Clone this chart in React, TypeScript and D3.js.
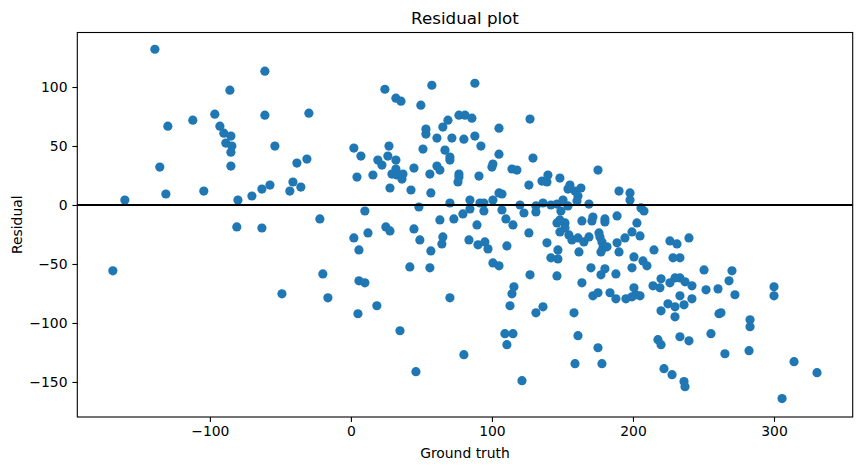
import { useEffect, useRef } from 'react';
import * as d3 from 'd3';

const groundTruth = [
  -139.0, -61.0, -85.8, -129.8, -112.1, -96.5, -61.0, -92.9, -90.1, -85.1,
  -88.7, -84.4, -85.1, -53.9, -135.5, -85.1, -160.3, -131.2, -104.3, -80.1,
  -70.2, -63.1, -57.4, -80.9, -63.1, -168.8, -29.8, -38.3, -31.2, -41.1,
  -43.3, -35.5, -22.0, 9.9, 24.1, 31.9, 35.5, 57.4, 49.6, 2.1,
  7.1, 4.3, 15.6, 19.1, 22.0, 27.0, 26.2, 31.9, 31.9, 29.1,
  32.6, 36.9, 36.2, 44.7, 27.7, 42.6, 51.1, 53.2, 53.2, 61.0,
  65.2, 68.8, 76.6, 80.9, 80.1, 71.6, 66.7, 70.2, 70.2, 61.0,
  63.1, 56.0, 76.6, 76.6, 75.9, 56.7, 70.2, 84.4, 48.2, 84.4,
  79.4, 73.0, 63.1, 24.8, 44.7,
  87.9, 85.8, 105.0, 127.0, 87.9, 92.2, 105.0, 129.1, 100.0, 100.7,
  114.2, 117.7, 90.8, 126.2, 135.5, 139.0, 139.7, 148.2, 175.2, 105.0,
  107.1, 100.7, 91.5, 94.3, 94.3, 107.1, 119.9, 122.7, 109.9, 114.9,
  89.4, 131.2, 136.2, 141.8, 131.2, 146.1, 150.4, 153.9, 148.9, 146.1,
  151.8, 148.2, 153.9, 155.3, 158.9, 163.1, 161.0, 160.3, 168.8, 163.8,
  171.6, 170.9, 180.1, 180.1, 188.7, 190.1, 197.9, 197.9, 205.7, 207.8,
  202.8,
  2.1, 12.1, 27.7, 5.7, 48.9, 56.7, 65.2, 64.5, 83.7, 41.8,
  56.0, -19.9, 5.7, 9.9, -48.9, -16.3, 70.2, 18.4, 5.0, 34.8,
  80.1, 46.1,
  126.2, 90.1, 95.0, 97.2, 110.6, 100.7, 105.0, 127.0, 115.6, 114.2,
  112.8, 131.2, 136.2, 109.2, 114.9, 110.6, 121.3, 151.8, 148.2, 139.0,
  146.8, 141.8, 146.8, 146.1, 154.6, 156.7, 161.0, 161.7, 165.2, 168.8,
  175.9, 176.6, 178.0, 178.7, 181.6, 177.3, 170.2, 180.1, 177.3, 187.9,
  163.8, 171.6, 175.2, 183.7, 187.9, 188.7, 190.1, 194.3, 199.3, 205.0,
  200.7, 199.3, 207.1, 209.9, 214.9, 195.0, 199.3, 200.7, 202.1, 205.0,
  214.2, 219.9, 219.1, 219.9, 158.2, 161.0, 158.9, 175.2, 178.0, 217.7,
  219.9, 222.0,
  226.2, 231.2, 239.7, 228.4, 233.3, 226.2, 229.8, 233.3, 236.9, 241.8,
  233.3, 241.8, 224.8, 229.8, 236.2, 229.8, 250.4, 270.2, 268.1, 251.8,
  260.3, 272.3, 300.0, 300.0, 261.0, 283.0, 283.0, 255.3, 233.3, 239.7,
  265.2, 282.3, 314.2, 330.5, 227.7, 236.2, 236.9, 305.7, 262.4,
];

const residuals = [
  132.0, 113.4, 97.3, 66.8, 71.9, 77.0, 76.1, 66.8, 60.9, 58.4,
  52.5, 49.9, 44.8, 49.9, 32.1, 33.0, 4.2, 9.3, 11.8, 4.2,
  7.6, 13.5, 16.9, -18.6, -19.5, -55.8, 77.8, 35.5, 38.9, 19.5,
  11.8, 15.2, -11.8, -5.1, 98.1, 90.5, 88.0, 101.5, 84.6, 48.2,
  41.5, 23.7, 25.4, 38.1, 33.8, 49.9, 41.5, 38.1, 30.5, 26.2,
  25.4, 26.2, 22.0, 31.3, 14.4, 12.7, 47.4, 64.3, 60.1, 56.7,
  66.0, 71.9, 76.1, 76.1, 55.8, 56.7, 46.5, 40.6, 38.1, 33.0,
  29.6, 26.2, 26.2, 23.7, 19.5, 10.2, 1.7, 4.2, -1.7, -3.4,
  -7.6, -11.8, -12.7, -18.6, -20.3,
  103.2, 73.6, 65.1, 72.8, 58.4, 49.9, 43.1, 39.8, 32.1, 34.7,
  30.5, 29.6, 24.5, 16.9, 20.3, 19.5, 25.4, 22.8, 29.6, 10.2,
  9.3, 4.2, 1.7, 1.7, -5.1, -4.2, 0, -6.8, -11.8, -16.9,
  -16.9, -0.8, 1.7, 0, -5.9, 0.8, 4.2, -0.8, -5.1, -15.2,
  -15.2, -12.7, 13.5, 16.9, 11.8, 14.4, 7.6, 3.4, 0.8, -13.5,
  -10.2, -13.5, -11.8, -14.4, -9.3, 11.8, 10.2, 4.2, -2.5, -5.1,
  -15.2,
  -27.9, -23.7, -22.0, -38.1, -29.6, -38.9, -27.1, -33.0, -29.6, -52.5,
  -53.3, -58.4, -64.3, -66.0, -75.3, -78.7, -78.7, -85.4, -92.2, -106.6,
  -126.9, -141.3,
  -23.7, -33.8, -31.3, -37.2, -34.7, -49.1, -51.6, -59.2, -69.4, -75.3,
  -85.4, -91.4, -86.3, -109.1, -109.1, -118.4, -148.9, -19.5, -22.8, -32.1,
  -38.1, -44.8, -45.7, -60.1, -25.4, -29.6, -27.9, -39.8, -31.3, -27.1,
  -23.7, -27.1, -31.3, -36.4, -35.5, -39.8, -53.3, -54.1, -59.2, -58.4,
  -66.0, -77.0, -74.4, -74.4, -79.5, -32.1, -39.8, -27.9, -22.8, -26.2,
  -44.0, -53.3, -47.4, -51.6, -38.1, -79.5, -77.8, -70.2, -76.1, -77.0,
  -68.5, -62.6, -70.2, -89.7, -91.4, -110.8, -134.5, -121.0, -134.5, -114.2,
  -118.4, -138.7,
  -30.5, -33.0, -27.9, -44.8, -44.8, -66.0, -61.8, -61.8, -65.1, -68.5,
  -77.0, -79.5, -83.8, -86.3, -84.6, -94.8, -55.0, -55.8, -64.3, -71.9,
  -71.1, -76.1, -69.4, -77.0, -92.2, -97.3, -103.2, -109.1, -111.7, -115.1,
  -126.1, -123.5, -132.8, -142.1, -143.8, -149.7, -154.0, -164.1, -91.4,
];

const xTicks = [-100, 0, 100, 200, 300];
const yTicks = [-150, -100, -50, 0, 50, 100];

const WIDTH = 862;
const HEIGHT = 470;
const FONT = '"DejaVu Sans", sans-serif';

const fmt = (v: number) => String(v).replace('-', '\u2212');

const ResidualPlot = () => {
  const svgRef = useRef<SVGSVGElement>(null);

  useEffect(() => {
    if (!svgRef.current) return;
    const svg = d3.select(svgRef.current);
    svg.selectAll('*').remove();

    const left = 77.3, right = 852.7, top = 32.5, bottom = 417;

    const x = d3.scaleLinear().domain([-194, 355.8]).range([left, right]);
    const y = d3.scaleLinear().domain([-179.7, 146.2]).range([bottom, top]);

    const points = groundTruth.map((g, i) => ({ g, r: residuals[i] }));

    // scatter
    svg.append('g')
      .selectAll('circle')
      .data(points)
      .enter()
      .append('circle')
      .attr('cx', d => x(d.g))
      .attr('cy', d => y(d.r))
      .attr('r', 4.6)
      .attr('fill', '#1f77b4');

    // zero line sits above the points
    svg.append('line')
      .attr('x1', left)
      .attr('x2', right)
      .attr('y1', y(0))
      .attr('y2', y(0))
      .attr('stroke', '#000')
      .attr('stroke-width', 2.1);

    // frame
    svg.append('rect')
      .attr('x', left)
      .attr('y', top)
      .attr('width', right - left)
      .attr('height', bottom - top)
      .attr('fill', 'none')
      .attr('stroke', '#000')
      .attr('stroke-width', 1.1);

    // x axis
    const xg = svg.append('g')
      .attr('transform', `translate(0,${bottom})`)
      .call(d3.axisBottom(x).tickValues(xTicks).tickSize(4.9).tickPadding(4.6).tickFormat(d => fmt(+d)));
    xg.select('.domain').remove();
    xg.selectAll('line').attr('stroke-width', 1.1);
    xg.selectAll('text').attr('font-family', FONT).attr('font-size', 13.9).attr('fill', '#000');

    // y axis
    const yg = svg.append('g')
      .attr('transform', `translate(${left},0)`)
      .call(d3.axisLeft(y).tickValues(yTicks).tickSize(4.9).tickPadding(4.9).tickFormat(d => fmt(+d)));
    yg.select('.domain').remove();
    yg.selectAll('line').attr('stroke-width', 1.1);
    yg.selectAll('text').attr('font-family', FONT).attr('font-size', 13.9).attr('fill', '#000');

    svg.append('text')
      .attr('x', (left + right) / 2)
      .attr('y', 24)
      .attr('text-anchor', 'middle')
      .attr('font-family', FONT)
      .attr('font-size', 16.7)
      .text('Residual plot');

    svg.append('text')
      .attr('x', (left + right) / 2)
      .attr('y', 458)
      .attr('text-anchor', 'middle')
      .attr('font-family', FONT)
      .attr('font-size', 13.9)
      .text('Ground truth');

    svg.append('text')
      .attr('transform', `translate(21.5,${(top + bottom) / 2}) rotate(-90)`)
      .attr('text-anchor', 'middle')
      .attr('font-family', FONT)
      .attr('font-size', 13.9)
      .text('Residual');
  }, []);

  return (
    <svg
      ref={svgRef}
      width={WIDTH}
      height={HEIGHT}
      style={{ position: 'absolute', left: 0, top: 0, background: '#fff' }}
    ></svg>
  );
};

export default function App() {
  return <ResidualPlot />;
}
